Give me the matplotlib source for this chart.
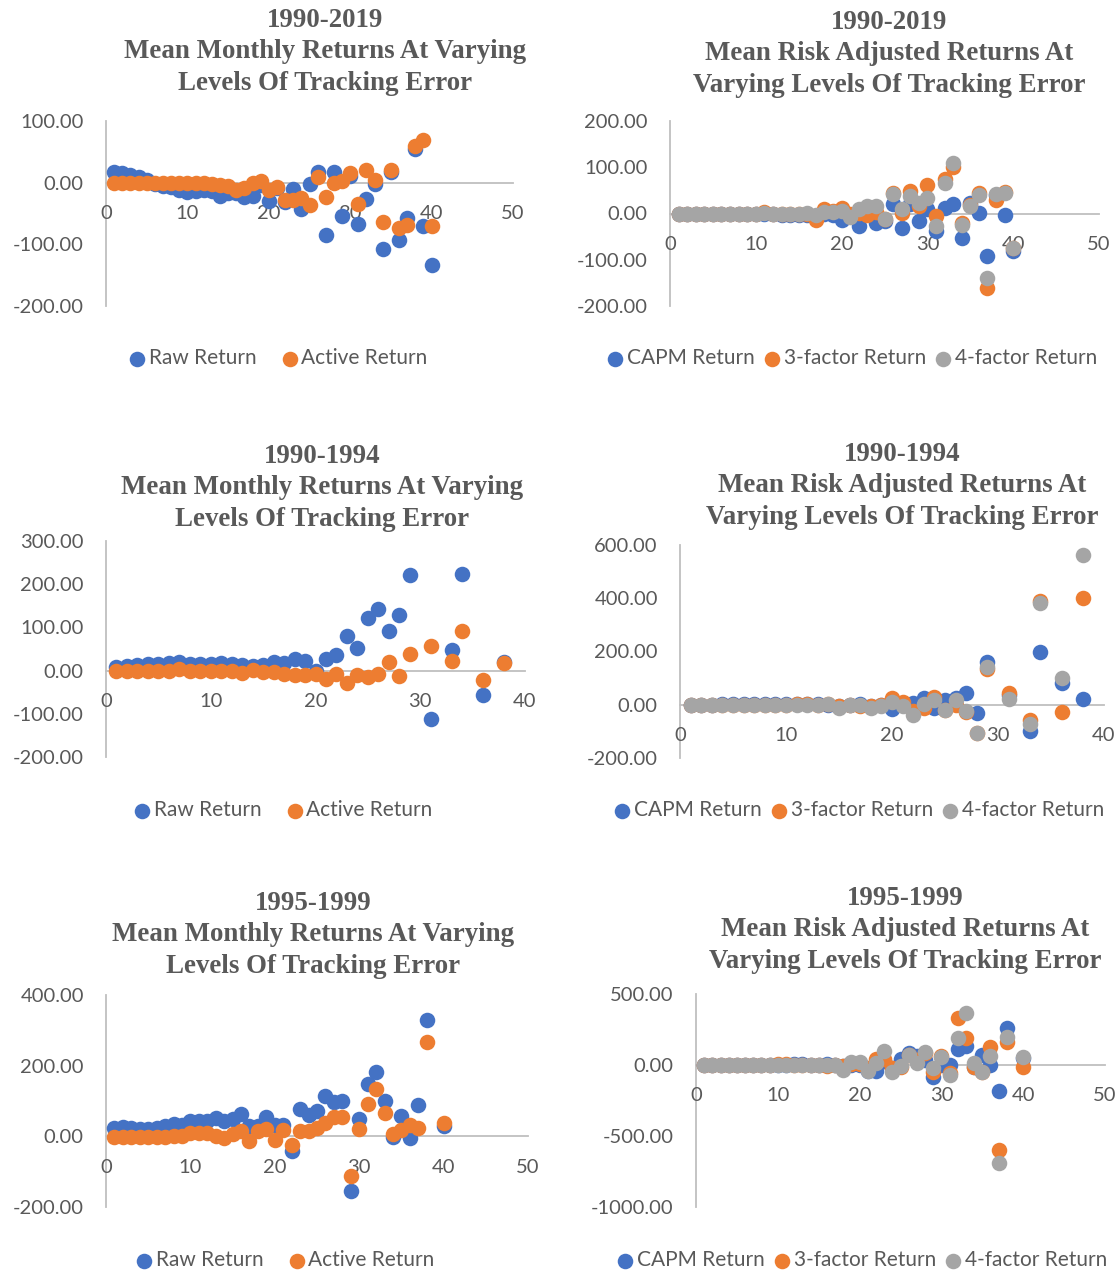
import matplotlib
matplotlib.use("Agg")
import matplotlib.pyplot as plt
import numpy as np

nan = np.nan
BLUE, ORANGE, GRAY = "#4472C4", "#ED7D31", "#A5A5A5"
TXT = "#595959"
AXC = "#BFBFBF"

x40 = list(range(1, 41))
x38 = list(range(1, 39))

# 1990-2019
raw_90_19 = [17, 15, 12.5, 8.7, 4, -2, -5, -6.5, -12, -14.6, -13, -12, -13, -21, -17, -16, -23, -21, -3, -29,
             -8, -32, -10, -43, -2, 18, -85, 17, -54, 11, -67, -27, -2, -108, 17, -93, -57, 55, -70, -133]
act_90_19 = [-1, -1, -1, -1, -1, -1, -1, -0.5, -1, -1, -1, -1, -2, -3, -5, -12, -9, -1, 3, -12,
             -6.5, -28, -28, -25, -37, 10, -24, -1, 3, 15, -35, 21, 4, -63, 20, -73, -69, 60, 69, -71]
capm_90_19 = [0, 0, 0, 0, 0, 0, 0, 0, -1, -1, 0, -1, -3, -4, -4, -3, -5, -2, -4, -13,
              -6, -26, -2, -20, -17, 21, -31, 20, -17, 9, -37, 12, 20, -54, 23, 1, -91, 39, -4, -82]
f3_90_19 = [0, 0, 0, 0, 0, 0, 0, 0, 0, 0, 4, 0, -2, 0, -1, -2, -13, 9, 5, 12,
            -2, 2, -4, 3, -12, 45, 1, 49, 16, 61, -6, 74, 101, -20, 19, 45, -162, 30, 46, -75]
f4_90_19 = [0, 0, 0, 0, 0, 0, 0, 0, 0, 0, 1, -1, -2, 0, 0, 1, -4, 3, 4, 5,
            -7, 10, 17, 16, -12, 43, 10, 38, 23, 34, -26, 65, 110, -24, 17, 39, -140, 42, 44, -74]

# 1990-1994
raw_90_94 = [8.5, 10, 12, 15, 15, 18, 21, 16, 16, 15, 18, 16, 14, 10, 12, 19, 18, 27, 23, -1.5,
             28, 35, 81, 52, 122, 143, 91, 129, 221, nan, -112, nan, 47, 224, nan, -56, nan, 20]
act_90_94 = [-1.5, -1.5, -1.5, -1, -1, -1, 4, -2, -1.5, -1.5, -1, -1, -5, 2, -4, -4, -9, -11, -11, -9,
             -18.5, -8, -29, -11, -15, -9, 19, -12, 39, nan, 56, nan, 22, 91, nan, -22, nan, 18]
capm_90_94 = [0, 0, 0, 1, 1, 1, 2, 1, 1, 1, 2, 2, 1, 0, -3, 0, 2, -4, -2, -16,
              0, 6, 25, -12, 19, 25, 46, -31, 159, nan, 35, nan, -100, 197, nan, 81, nan, 21]
f3_90_94 = [0, 0, 0, 0, 0, 0, 0, 0, 0, 0, 2, 2, 0, 4, -4, 0, -3, -6, -2, 25,
            9, -25, -12, 29, -19, 0, -29, -106, 134, nan, 44, nan, -59, 388, nan, -29, nan, 401]
f4_90_94 = [0, 0, 0, 0, 0, 0, 0, 0, 0, 0, 0, 0, 0, 2, -12, 0, -2, -12, -6, 12,
            -6, -37, 4, 16, -21, 16, -25, -106, 140, nan, 21, nan, -71, 384, nan, 100, nan, 564]

# 1995-1999
raw_95_99 = [25, 27, 25, 22, 22, 25, 28, 35, 33, 44, 42, 42, 52, 44, 50, 64, 28, 28, 54, 33,
             33, -42, 78, 59, 73, 113, 97, 99, -154, 50, 149, 181, 99, -3, 57, -5, 88, 328, nan, 28]
act_95_99 = [-3, -2, -2, -2, -2, -2, -2, 0, 0, 9, 9, 9, 0, -5, 7, 14, -14, 14, 22, -9,
             19, -24, 14, 14, 25, 38, 54, 54, -113, 22, 92, 135, 66, 7, 19, 33, 25, 267, nan, 38]
capm_95_99 = [0, 0, 0, 0, 0, 0, 0, 0, 0, 0, 0, 5, 5, 0, 0, 5, 0, -10, 0, 0,
              -42, -42, 30, -24, 42, 82, 66, 35, -82, 0, 0, 113, 136, -12, 70, 0, -183, 263, nan, 52]
f3_95_99 = [0, 0, 0, 0, 0, 0, 0, 0, 0, 5, 5, 0, 0, 0, 0, -5, 0, -5, 5, 5,
            -20, 42, 42, -24, -12, 70, 35, 82, -52, 66, -59, 329, 193, -12, -47, 129, -600, 165, nan, -12]
f4_95_99 = [0, 0, 0, 0, 0, 0, 0, 0, 0, 0, 0, 0, 0, 0, 0, 0, 0, -35, 19, 19,
            -42, 12, 99, -52, -5, 70, 12, 94, -19, 59, -71, 193, 364, 12, -52, 66, -693, 200, nan, 59]

plt.rcParams["font.family"] = ["Lato", "DejaVu Sans"]

fig = plt.figure(figsize=(11.2, 12.72), dpi=100)


def panel(rect, x, series, names, colors, xmax, ylim, yticks, xticks, title, tpos, lpos):
    ax = fig.add_axes(rect)
    for ys, c, n in zip(series, colors, names):
        ax.scatter(x, ys, s=125, color=c, label=n, zorder=3, linewidths=0)
    ax.set_xlim(0, xmax)
    ax.set_ylim(*ylim)
    ax.set_yticks(yticks)
    ax.set_yticklabels([f"{v:.2f}" for v in yticks])
    ax.set_xticks(xticks)
    for s in ("top", "right"):
        ax.spines[s].set_visible(False)
    ax.spines["bottom"].set_position(("data", 0))
    for s in ("left", "bottom"):
        ax.spines[s].set_color(AXC)
        ax.spines[s].set_linewidth(1.3)
        ax.spines[s].set_zorder(1)
    ax.tick_params(length=0, labelsize=14.5, colors=TXT)
    ax.tick_params(axis="x", pad=16)
    ax.tick_params(axis="y", pad=16)
    ax.patch.set_alpha(0)
    fig.text(tpos[0], tpos[1], title, ha="center", va="top", fontsize=19.4,
             fontweight="bold", family="Liberation Serif", color=TXT, linespacing=1.34)
    three_series = len(series) == 3
    leg = ax.legend(loc="center", bbox_to_anchor=lpos, bbox_transform=fig.transFigure,
                    ncol=len(series), frameon=False, fontsize=15, handletextpad=0.15,
                    columnspacing=0.45 if three_series else 1.2, handlelength=0.8,
                    scatterpoints=1)
    for t in leg.get_texts():
        t.set_color(TXT)
    return ax


two = ["Raw Return", "Active Return"]
three = ["CAPM Return", "3-factor Return", "4-factor Return"]
c2 = [BLUE, ORANGE]
c3 = [BLUE, ORANGE, GRAY]
H = 1272.0
W = 1120.0


def r(x0, x1, ytop, ybot):
    return [x0 / W, 1 - ybot / H, (x1 - x0) / W, (ybot - ytop) / H]


panel(r(106, 513, 121, 306), x40, [raw_90_19, act_90_19], two, c2, 50, (-200, 100),
      [-200, -100, 0, 100], [0, 10, 20, 30, 40, 50],
      "1990-2019\nMean Monthly Returns At Varying\nLevels Of Tracking Error",
      (325 / W, 1 - 8 / H), (278 / W, 1 - 358 / H))
panel(r(670, 1099, 121, 306), x40, [capm_90_19, f3_90_19, f4_90_19], three, c3, 50, (-200, 200),
      [-200, -100, 0, 100, 200], [0, 10, 20, 30, 40, 50],
      "1990-2019\nMean Risk Adjusted Returns At\nVarying Levels Of Tracking Error",
      (889 / W, 1 - 10 / H), (852 / W, 1 - 358 / H))
panel(r(106, 525, 541, 757), x38, [raw_90_94, act_90_94], two, c2, 40, (-200, 300),
      [-200, -100, 0, 100, 200, 300], [0, 10, 20, 30, 40],
      "1990-1994\nMean Monthly Returns At Varying\nLevels Of Tracking Error",
      (322 / W, 1 - 444 / H), (283 / W, 1 - 810 / H))
panel(r(680, 1104, 545, 758), x38, [capm_90_94, f3_90_94, f4_90_94], three, c3, 40, (-200, 600),
      [-200, 0, 200, 400, 600], [0, 10, 20, 30, 40],
      "1990-1994\nMean Risk Adjusted Returns At\nVarying Levels Of Tracking Error",
      (902 / W, 1 - 442 / H), (859 / W, 1 - 810 / H))
panel(r(106, 528, 995, 1207), x40, [raw_95_99, act_95_99], two, c2, 50, (-200, 400),
      [-200, 0, 200, 400], [0, 10, 20, 30, 40, 50],
      "1995-1999\nMean Monthly Returns At Varying\nLevels Of Tracking Error",
      (313 / W, 1 - 891 / H), (285 / W, 1 - 1260 / H))
panel(r(696, 1105, 994, 1207), x40, [capm_95_99, f3_95_99, f4_95_99], three, c3, 50, (-1000, 500),
      [-1000, -500, 0, 500], [0, 10, 20, 30, 40, 50],
      "1995-1999\nMean Risk Adjusted Returns At\nVarying Levels Of Tracking Error",
      (905 / W, 1 - 886 / H), (862 / W, 1 - 1260 / H))

fig.savefig("out.png", dpi=100, facecolor="white")
